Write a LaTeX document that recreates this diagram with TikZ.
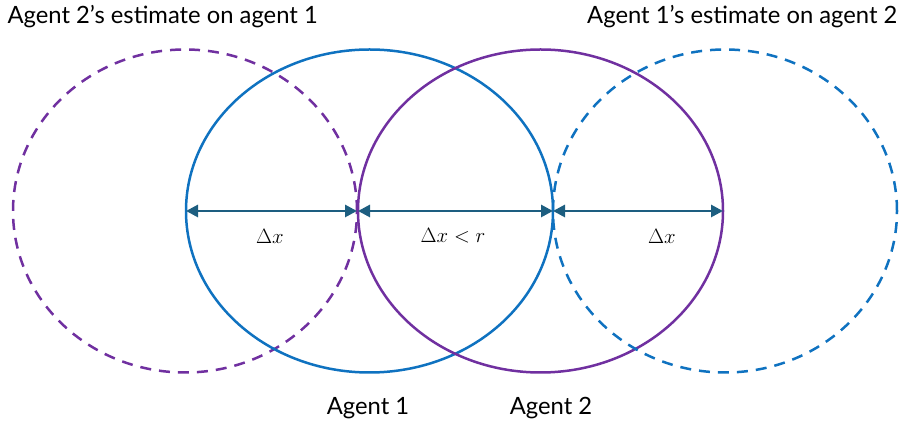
\documentclass[tikz,border=0pt]{standalone}
\usepackage{fontspec}
\setmainfont{Lato}
\usetikzlibrary{shapes.geometric,arrows.meta}
\definecolor{cblue}{HTML}{0F72C0}
\definecolor{cpurple}{HTML}{7030A0}
\definecolor{carrow}{HTML}{1D5E80}
\tikzset{
  circ/.style={ellipse, inner sep=0pt, outer sep=0pt, line width=2.5pt},
  dsh/.style={dash pattern=on 11pt off 8pt},
  dim/.style={carrow, line width=2.8pt, {Triangle[length=12pt,width=12pt]}-{Triangle[length=12pt,width=12pt]}},
  lbl/.style={font=\fontsize{23.8}{28}\selectfont, text=black},
  mlbl/.style={font=\huge}
}
\begin{document}
\begin{tikzpicture}[x=1pt,y=1pt]
\useasboundingbox (0,0) rectangle (900,428);
\node[circ, draw=cpurple, dsh, minimum width=344pt, minimum height=323pt] (pd) at (185,217) {};
\node[circ, draw=cblue, minimum width=367pt, minimum height=323pt] (bs) at (369.5,217) {};
\node[circ, draw=cpurple, minimum width=365pt, minimum height=323pt] (ps) at (540.5,217) {};
\node[circ, draw=cblue, dsh, minimum width=344pt, minimum height=323pt] (bd) at (725,217) {};
\draw[dim] (bs.west) -- (pd.east);
\draw[dim] (ps.west) -- (bs.east);
\draw[dim] (bd.west) -- (ps.east);
\node[mlbl] (l1) at (270,192) {$\Delta x$};
\node[mlbl] (l2) at (453,192) {$\Delta x < r$};
\node[mlbl] (l3) at (662,192) {$\Delta x$};
\node[lbl, anchor=west] (t1) at (4,411) {Agent 2’s estimate on agent 1};
\node[lbl, anchor=east] (t2) at (901,411) {Agent 1’s estimate on agent 2};
\node[lbl] (a1) at (368,20) {Agent 1};
\node[lbl] (a2) at (551,20) {Agent 2};
\end{tikzpicture}
\end{document}
